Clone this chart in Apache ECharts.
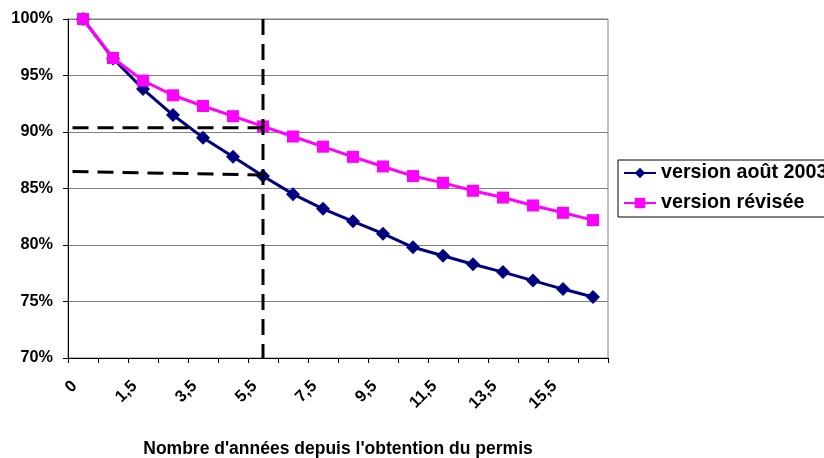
<!DOCTYPE html>
<html>
<head>
<meta charset="utf-8">
<script src="https://cdn.jsdelivr.net/npm/echarts@6/dist/echarts.min.js"></script>
<style>
html,body{margin:0;padding:0;background:#fff;}
#c{width:824px;height:458px;}
</style>
</head>
<body>
<div id="c"></div>
<script>
// Categories (years since licence)
const categories = ['0','0,5','1,5','2,5','3,5','4,5','5,5','6,5','7,5','8,5','9,5','10,5','11,5','12,5','13,5','14,5','15,5','16,5'];
// Series values (%)
const versionAout2003 = [100, 96.5, 93.8, 91.5, 89.5, 87.8, 86.1, 84.5, 83.2, 82.1, 81.0, 79.8, 79.05, 78.3, 77.6, 76.85, 76.1, 75.4];
const versionRevisee = [100, 96.55, 94.55, 93.25, 92.3, 91.4, 90.5, 89.6, 88.7, 87.8, 86.95, 86.1, 85.5, 84.8, 84.2, 83.5, 82.85, 82.2];
// Reference annotation (category "5,5")
const refCategory = '5,5';
const refUpper = [90.38, 90.38];   // horizontal dashed line: start, end
const refLower = [86.5, 86.2];     // slightly sloped dashed line: start, end
const refStartOffset = 0.15;       // start of dashed lines, in category units from left edge
const yTicks = {min: 70, max: 100, step: 5};

const refIdx = categories.indexOf(refCategory) + 0.5;
const font = 'Liberation Sans, Arial, sans-serif';
const dash = {type: [16, 9], width: 3, color: '#000'};

const chart = echarts.init(document.getElementById('c'), null, {renderer: 'canvas'});
chart.setOption({
  animation: false,
  backgroundColor: '#fff',
  grid: {left: 68, right: 216, top: 19, bottom: 100, show: true, borderColor: '#808080', borderWidth: 1,
         containLabel: false, outerBoundsMode: 'none'},
  legend: {
    data: ['version août 2003', 'version révisée'],
    orient: 'vertical',
    left: 618, top: 160,
    padding: [3, 40, 4, 5],
    itemGap: 10,
    itemWidth: 32, itemHeight: 13,
    borderColor: '#000', borderWidth: 1,
    textStyle: {fontFamily: font, fontWeight: 'bold', fontSize: 19.7, color: '#000', lineHeight: 20}
  },
  xAxis: [{
    type: 'category',
    data: categories,
    boundaryGap: true,
    axisLine: {lineStyle: {color: '#000', width: 1}},
    axisTick: {show: true, interval: 0, length: 5, lineStyle: {color: '#000'}},
    axisLabel: {interval: 1, rotate: 45, margin: 17, padding: [0, 12, 0, 0],
      fontFamily: font, fontWeight: 'bold', fontSize: 16.5, color: '#000'},
    splitLine: {show: false},
    name: "Nombre d'années depuis l'obtention du permis",
    nameLocation: 'middle', nameGap: 82,
    nameTextStyle: {fontFamily: font, fontWeight: 'bold', fontSize: 17.5, color: '#000'}
  }, {
    type: 'value', min: 0, max: categories.length, show: false
  }],
  yAxis: {
    type: 'value', min: yTicks.min, max: yTicks.max, interval: yTicks.step,
    axisLine: {show: true, lineStyle: {color: '#000'}},
    axisTick: {show: true, length: 5, lineStyle: {color: '#000'}},
    axisLabel: {formatter: '{value}%', margin: 15, fontFamily: font, fontWeight: 'bold', fontSize: 16.3, color: '#000'},
    splitLine: {show: true, lineStyle: {color: '#808080', width: 1}}
  },
  series: [{
    name: 'version août 2003', type: 'line', data: versionAout2003,
    symbol: 'diamond', symbolSize: 14,
    lineStyle: {color: '#000080', width: 3},
    itemStyle: {color: '#000080'},
    z: 3
  }, {
    name: 'version révisée', type: 'line', data: versionRevisee,
    symbol: 'rect', symbolSize: 12,
    lineStyle: {color: '#FF00FF', width: 3},
    itemStyle: {color: '#FF00FF'},
    z: 4
  }, {
    name: 'ref-v', type: 'line', xAxisIndex: 1, silent: true, symbol: 'none', z: 5,
    data: [[refIdx, yTicks.max], [refIdx, yTicks.min]], lineStyle: dash
  }, {
    name: 'ref-h1', type: 'line', xAxisIndex: 1, silent: true, symbol: 'none', z: 5,
    data: [[refStartOffset, refUpper[0]], [refIdx, refUpper[1]]], lineStyle: dash
  }, {
    name: 'ref-h2', type: 'line', xAxisIndex: 1, silent: true, symbol: 'none', z: 5,
    data: [[refStartOffset, refLower[0]], [refIdx, refLower[1]]], lineStyle: dash
  }]
});
</script>
</body>
</html>
